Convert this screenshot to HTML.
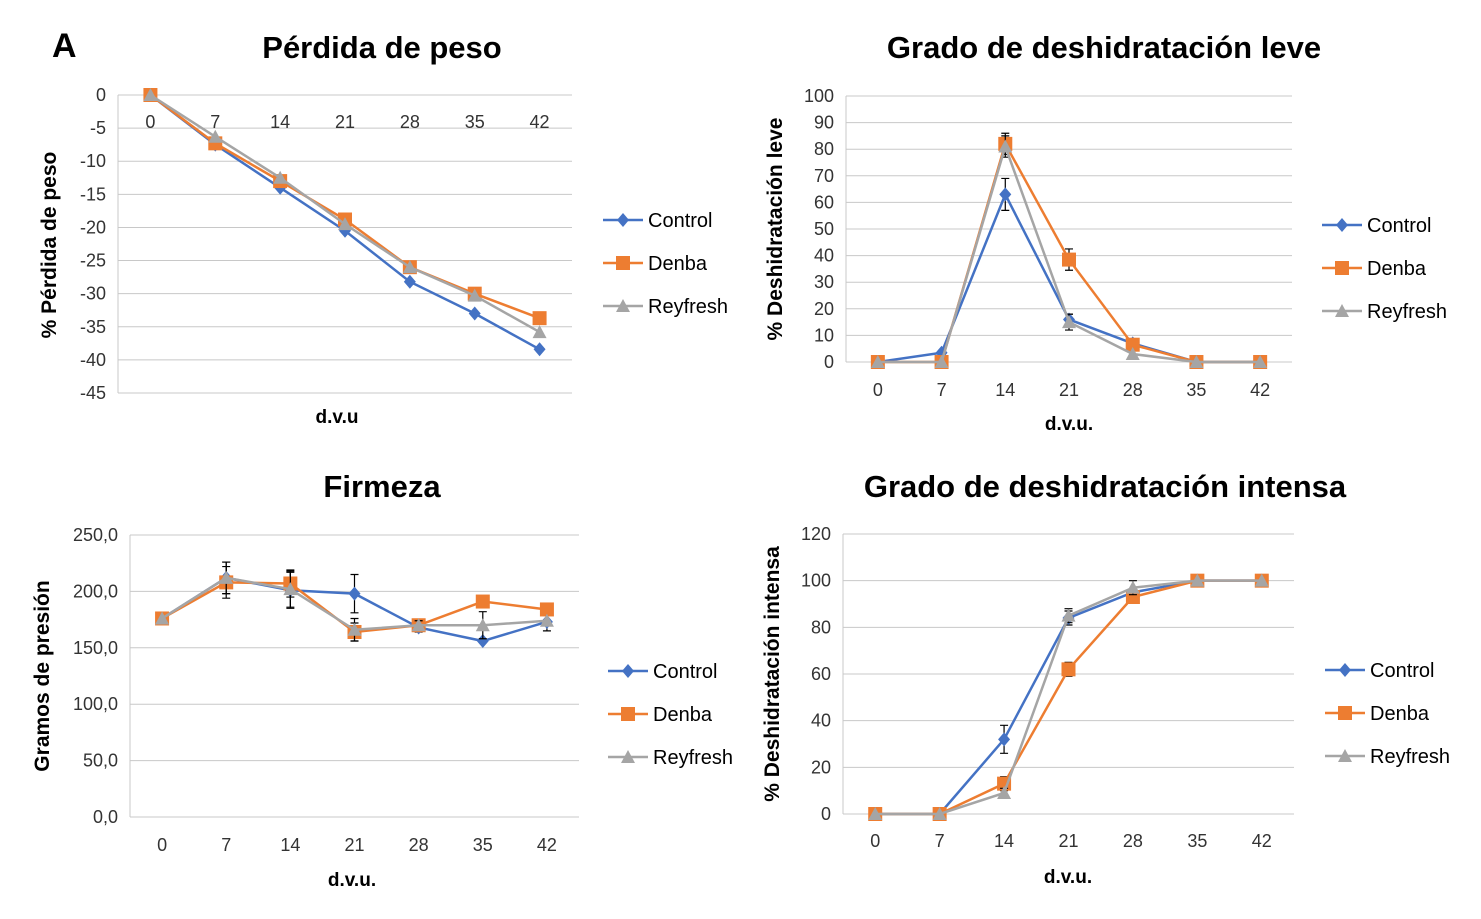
<!DOCTYPE html>
<html><head><meta charset="utf-8"><style>
body{margin:0;background:#fff;}
svg{display:block;font-family:"Liberation Sans",sans-serif;}
</style></head><body>
<svg id="s" width="1481" height="919">
<text x="52" y="57" font-size="34" font-weight="bold">A</text>
</svg>
<script>
const days=["0","7","14","21","28","35","42"];
const names=["Control","Denba","Reyfresh"];
const colors=["#4472C4","#ED7D31","#A5A5A5"];
// chart 1
const c1Control=[0,-7.5,-14,-20.5,-28.2,-33,-38.4];
const c1Denba=[0,-7.3,-13,-18.8,-26,-30,-33.7];
const c1Reyfresh=[0,-6.3,-12.5,-19.5,-26,-30.3,-35.8];
const c1Ticks=[0,-5,-10,-15,-20,-25,-30,-35,-40,-45];
// chart 2
const c2Control=[0,3.5,63,16,7,0,0];
const c2Denba=[0,0,82,38.5,6.5,0,0];
const c2Reyfresh=[0,0,81,15,3,0,0];
const c2ErrControl=[0,0,6,2,0,0,0];
const c2ErrDenba=[0,0,4,4,0,0,0];
const c2ErrReyfresh=[0,0,4,3,0,0,0];
const c2Ticks=[0,10,20,30,40,50,60,70,80,90,100];
// chart 3
const c3Control=[176,212,201,198,168,156,173];
const c3Denba=[176,208,207,164,170,191,184];
const c3Reyfresh=[176,212,202,166,170,170,174];
const c3ErrControl=[0,14,16,17,4,0,8];
const c3ErrDenba=[0,14,12,8,4,0,0];
const c3ErrReyfresh=[0,14,16,10,4,12,0];
const c3Ticks=[0,50,100,150,200,250];
// chart 4
const c4Control=[0,0,32,84,95,100,100];
const c4Denba=[0,0,13,62,93,100,100];
const c4Reyfresh=[0,0,9,85,97,100,100];
const c4ErrControl=[0,0,6,3,0,0,0];
const c4ErrDenba=[0,0,3,3,0,0,0];
const c4ErrReyfresh=[0,0,2,3,3,0,0];
const c4Ticks=[0,20,40,60,80,100,120];

const S=document.getElementById('s');
const NS="http://www.w3.org/2000/svg";
function mk(tag,attrs,parent){const e=document.createElementNS(NS,tag);for(const k in attrs)e.setAttribute(k,attrs[k]);(parent||S).appendChild(e);return e;}
function txt(x,y,t,size,opt){const e=mk('text',Object.assign({x:x,y:y,'font-size':size,fill:'#000'},opt||{}));e.textContent=t;return e;}

function chart(cfg){
 const g=mk('g',{});
 
 
 const {x0,x1,yTop,yBot,vmin,vmax}=cfg;
 const sy=v=>yBot-(v-vmin)/(vmax-vmin)*(yBot-yTop);
 const bw=(x1-x0)/days.length;
 const sx=i=>x0+bw*(i+0.5);
 cfg.ticks.forEach(t=>{
  const y=sy(t);
  const l=mk('line',{x1:x0,x2:x1,y1:y,y2:y,stroke:'#c8c8c8','stroke-width':1},g);
  
  
  const lb=txt(x0-12,y+6,cfg.fmt?cfg.fmt(t):String(t),18,{'text-anchor':'end',fill:'#333'});
  
  
 });
 const ax=mk('line',{x1:x0,x2:x0,y1:yTop,y2:yBot,stroke:'#c8c8c8'},g);
 
 
 days.forEach((d,i)=>{
  const lb=txt(sx(i),cfg.xLabY,d,18,{'text-anchor':'middle',fill:'#333'});
  
  
 });
 cfg.series.forEach((vals,si)=>{
  const errs=cfg.errs?cfg.errs[si]:null;
  if(errs) vals.forEach((v,i)=>{ if(errs[i]>0){const x=sx(i),a=sy(v+errs[i]),b=sy(v-errs[i]);
   const e=mk('path',{d:`M${x},${a}V${b}M${x-4},${a}H${x+4}M${x-4},${b}H${x+4}`,stroke:'#000','stroke-width':1.2,fill:'none'},g);
   
   }});
  const p=mk('polyline',{points:vals.map((v,i)=>sx(i)+','+sy(v)).join(' '),fill:'none',stroke:colors[si],'stroke-width':2.5},g);
  
  
  vals.forEach((v,i)=>{const m=marker(sx(i),sy(v),si,g);
   
   });
 });
 const t=txt(cfg.title[0],cfg.title[1],cfg.title[2],31,{'text-anchor':'middle','font-weight':'bold'});
 
 
 const yt=txt(0,0,cfg.ytitle[2],21,{'text-anchor':'middle','font-weight':'bold',transform:`translate(${cfg.ytitle[0]},${cfg.ytitle[1]}) rotate(-90)`});
 
 
 const xt=txt(cfg.xtitle[0],cfg.xtitle[1],cfg.xtitle[2],19,{'text-anchor':'middle','font-weight':'bold'});
 
 
 cfg.legY.forEach((y,si)=>{
  const lg=mk('g',{},g);
  
  
  mk('line',{x1:cfg.legX,x2:cfg.legX+40,y1:y,y2:y,stroke:colors[si],'stroke-width':2.5},lg);
  marker(cfg.legX+20,y,si,lg);
  const tt=txt(cfg.legX+45,y+7,names[si],20,{fill:'#000'});
  lg.appendChild(tt);
 });
}
function marker(x,y,si,g){
 if(si===0) return mk('path',{d:`M${x},${y-7}L${x+6},${y}L${x},${y+7}L${x-6},${y}Z`,fill:colors[0]},g);
 if(si===1) return mk('rect',{x:x-7,y:y-7,width:14,height:14,fill:colors[1]},g);
 return mk('path',{d:`M${x},${y-7}L${x+7},${y+6}L${x-7},${y+6}Z`,fill:colors[2]},g);
}
chart({id:'chart-perdida-peso',x0:118,x1:572,yTop:95,yBot:393,vmin:-45,vmax:0,ticks:c1Ticks,xLabY:128,
 series:[c1Control,c1Denba,c1Reyfresh],title:[382,58,'Pérdida de peso'],ytitle:[56,245,'% Pérdida de peso'],
 xtitle:[337,423,'d.v.u'],legX:603,legY:[220,263,306]});
chart({id:'chart-deshidratacion-leve',x0:846,x1:1292,yTop:96,yBot:362,vmin:0,vmax:100,ticks:c2Ticks,xLabY:396,
 series:[c2Control,c2Denba,c2Reyfresh],errs:[c2ErrControl,c2ErrDenba,c2ErrReyfresh],title:[1104,58,'Grado de deshidratación leve'],
 ytitle:[782,229,'% Deshidratación leve'],xtitle:[1069,430,'d.v.u.'],legX:1322,legY:[225,268,311]});
chart({id:'chart-firmeza',x0:130,x1:579,yTop:535,yBot:817,vmin:0,vmax:250,ticks:c3Ticks,fmt:t=>t.toFixed(1).replace('.',','),xLabY:851,
 series:[c3Control,c3Denba,c3Reyfresh],errs:[c3ErrControl,c3ErrDenba,c3ErrReyfresh],title:[382,497,'Firmeza'],
 ytitle:[49,676,'Gramos de presión'],xtitle:[352,886,'d.v.u.'],legX:608,legY:[671,714,757]});
chart({id:'chart-deshidratacion-intensa',x0:843,x1:1294,yTop:534,yBot:814,vmin:0,vmax:120,ticks:c4Ticks,xLabY:847,
 series:[c4Control,c4Denba,c4Reyfresh],errs:[c4ErrControl,c4ErrDenba,c4ErrReyfresh],title:[1105,497,'Grado de deshidratación intensa'],
 ytitle:[779,674,'% Deshidratación intensa'],xtitle:[1068,883,'d.v.u.'],legX:1325,legY:[670,713,756]});
</script>
</body></html>
